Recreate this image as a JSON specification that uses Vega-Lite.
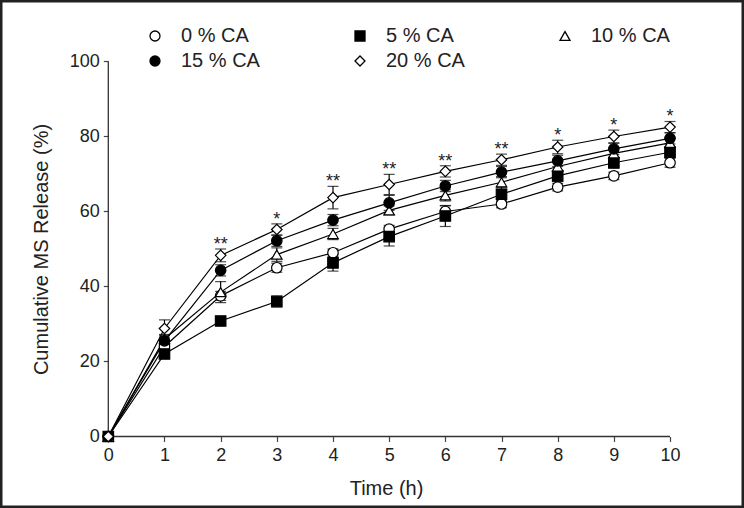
{
  "$schema": "https://vega.github.io/schema/vega-lite/v6.json",
  "width": 744,
  "height": 508,
  "autosize": {"type": "none"},
  "padding": 0,
  "background": "white",
  "config": {
    "view": {"stroke": "#222", "strokeWidth": 5},
    "font": "Liberation Sans"
  },
  "data": {
    "values": [
      {"t": 0, "s": "0 % CA", "v": 0, "e": 0},
      {"t": 1, "s": "0 % CA", "v": 24.0, "e": 1.5},
      {"t": 2, "s": "0 % CA", "v": 37.5, "e": 1.2},
      {"t": 3, "s": "0 % CA", "v": 45.0, "e": 1.2},
      {"t": 4, "s": "0 % CA", "v": 49.0, "e": 1.0},
      {"t": 5, "s": "0 % CA", "v": 55.3, "e": 1.0},
      {"t": 6, "s": "0 % CA", "v": 60.0, "e": 1.5},
      {"t": 7, "s": "0 % CA", "v": 62.0, "e": 1.0},
      {"t": 8, "s": "0 % CA", "v": 66.5, "e": 1.0},
      {"t": 9, "s": "0 % CA", "v": 69.5, "e": 1.0},
      {"t": 10, "s": "0 % CA", "v": 73.0, "e": 1.2},
      {"t": 0, "s": "5 % CA", "v": 0, "e": 0},
      {"t": 1, "s": "5 % CA", "v": 22.0, "e": 1.0},
      {"t": 2, "s": "5 % CA", "v": 30.8, "e": 0.8},
      {"t": 3, "s": "5 % CA", "v": 36.0, "e": 1.5},
      {"t": 4, "s": "5 % CA", "v": 46.3, "e": 2.2},
      {"t": 5, "s": "5 % CA", "v": 53.3, "e": 2.5},
      {"t": 6, "s": "5 % CA", "v": 58.8, "e": 2.8},
      {"t": 7, "s": "5 % CA", "v": 64.6, "e": 2.0},
      {"t": 8, "s": "5 % CA", "v": 69.5, "e": 1.5},
      {"t": 9, "s": "5 % CA", "v": 73.0, "e": 1.5},
      {"t": 10, "s": "5 % CA", "v": 75.8, "e": 1.5},
      {"t": 0, "s": "10 % CA", "v": 0, "e": 0},
      {"t": 1, "s": "10 % CA", "v": 26.0, "e": 1.2},
      {"t": 2, "s": "10 % CA", "v": 38.5, "e": 2.8},
      {"t": 3, "s": "10 % CA", "v": 48.5, "e": 1.8},
      {"t": 4, "s": "10 % CA", "v": 54.0, "e": 1.5},
      {"t": 5, "s": "10 % CA", "v": 60.3, "e": 1.2},
      {"t": 6, "s": "10 % CA", "v": 64.3, "e": 1.5},
      {"t": 7, "s": "10 % CA", "v": 67.8, "e": 1.5},
      {"t": 8, "s": "10 % CA", "v": 72.0, "e": 1.5},
      {"t": 9, "s": "10 % CA", "v": 75.5, "e": 1.5},
      {"t": 10, "s": "10 % CA", "v": 78.3, "e": 1.5},
      {"t": 0, "s": "15 % CA", "v": 0, "e": 0},
      {"t": 1, "s": "15 % CA", "v": 25.5, "e": 1.5},
      {"t": 2, "s": "15 % CA", "v": 44.3, "e": 1.5},
      {"t": 3, "s": "15 % CA", "v": 52.2, "e": 1.5},
      {"t": 4, "s": "15 % CA", "v": 57.7, "e": 1.5},
      {"t": 5, "s": "15 % CA", "v": 62.3, "e": 2.0},
      {"t": 6, "s": "15 % CA", "v": 66.8, "e": 1.5},
      {"t": 7, "s": "15 % CA", "v": 70.5, "e": 1.5},
      {"t": 8, "s": "15 % CA", "v": 73.5, "e": 1.5},
      {"t": 9, "s": "15 % CA", "v": 76.7, "e": 1.5},
      {"t": 10, "s": "15 % CA", "v": 79.5, "e": 1.5},
      {"t": 0, "s": "20 % CA", "v": 0, "e": 0},
      {"t": 1, "s": "20 % CA", "v": 28.8, "e": 2.3},
      {"t": 2, "s": "20 % CA", "v": 48.3, "e": 1.7, "sig": "**"},
      {"t": 3, "s": "20 % CA", "v": 55.2, "e": 1.5, "sig": "*"},
      {"t": 4, "s": "20 % CA", "v": 63.7, "e": 3.0, "sig": "**"},
      {"t": 5, "s": "20 % CA", "v": 67.2, "e": 2.7, "sig": "**"},
      {"t": 6, "s": "20 % CA", "v": 70.7, "e": 1.5, "sig": "**"},
      {"t": 7, "s": "20 % CA", "v": 73.8, "e": 1.5, "sig": "**"},
      {"t": 8, "s": "20 % CA", "v": 77.2, "e": 1.8, "sig": "*"},
      {"t": 9, "s": "20 % CA", "v": 80.0, "e": 1.7, "sig": "*"},
      {"t": 10, "s": "20 % CA", "v": 82.5, "e": 1.5, "sig": "*"}
    ]
  },
  "encoding": {
    "x": {
      "field": "t", "type": "quantitative",
      "scale": {"domain": [-1.928, 11.317], "nice": false, "zero": false},
      "axis": {
        "title": "Time (h)", "values": [0,1,2,3,4,5,6,7,8,9,10], "format": "d",
        "offset": -71.5, "domain": false, "grid": false,
        "tickSize": 5, "tickWidth": 1.2, "tickColor": "#444",
        "labelFontSize": 18, "labelColor": "#222", "labelPadding": 5, "labelFlush": false,
        "titleFontSize": 20, "titleFontWeight": "normal", "titleColor": "#222",
        "titleX": 386, "titleY": 52, "titleBaseline": "middle", "titleAlign": "center"
      }
    },
    "y": {
      "field": "v", "type": "quantitative",
      "scale": {"domain": [-19.07, 116.4], "nice": false, "zero": false},
      "axis": {
        "title": "Cumulative MS Release (%)", "values": [0,20,40,60,80,100],
        "offset": -108.3, "domain": false, "grid": false,
        "tickSize": 5, "tickWidth": 1.2, "tickColor": "#444",
        "labelFontSize": 18, "labelColor": "#222", "labelPadding": 4, "labelFlush": false,
        "titleFontSize": 20, "titleFontWeight": "normal", "titleColor": "#222",
        "titleX": -67, "titleY": 249, "titleAngle": -90, "titleBaseline": "middle", "titleAlign": "center"
      }
    }
  },
  "layer": [
    {
      "data": {"values": [{"a": 0, "b": 0}]},
      "mark": {"type": "rule", "color": "#333", "strokeWidth": 1.3},
      "encoding": {"x": {"field": "a", "type": "quantitative"}, "y": {"field": "b", "type": "quantitative"}, "y2": {"datum": 100}}
    },
    {
      "data": {"values": [{"a": 0, "b": 0}]},
      "mark": {"type": "rule", "color": "#333", "strokeWidth": 1.3},
      "encoding": {"x": {"field": "a", "type": "quantitative"}, "x2": {"datum": 10}, "y": {"field": "b", "type": "quantitative"}}
    },
    {
      "mark": {"type": "errorbar", "color": "black", "thickness": 1.2, "ticks": {"size": 11, "thickness": 1.2, "color": "black"}},
      "encoding": {"yError": {"field": "e"}, "detail": {"field": "s"}}
    },
    {
      "mark": {"type": "line", "color": "black", "strokeWidth": 1.2},
      "encoding": {"detail": {"field": "s"}}
    },
    {
      "mark": {"type": "point", "filled": false, "strokeWidth": 1.2, "opacity": 1, "size": 110},
      "encoding": {
        "shape": {
          "field": "s", "type": "nominal",
          "scale": {"domain": ["0 % CA", "5 % CA", "10 % CA", "15 % CA", "20 % CA"], "range": ["circle", "square", "triangle-up", "circle", "diamond"]},
          "legend": {
            "title": null, "orient": "none", "legendX": 145, "legendY": 26, "direction": "horizontal",
            "columns": 3, "columnPadding": 90, "rowPadding": 5, "padding": 0,
            "symbolSize": 100, "symbolStrokeWidth": 1.3, "symbolStrokeColor": "black",
            "labelFontSize": 20, "labelColor": "#222", "labelOffset": 16, "labelLimit": 200
          }
        },
        "fill": {
          "field": "s", "type": "nominal",
          "scale": {"domain": ["0 % CA", "5 % CA", "10 % CA", "15 % CA", "20 % CA"], "range": ["white", "black", "white", "black", "white"]}
        },
        "stroke": {
          "field": "s", "type": "nominal",
          "scale": {"domain": ["0 % CA", "5 % CA", "10 % CA", "15 % CA", "20 % CA"], "range": ["black", "black", "black", "black", "black"]}
        }
      }
    },
    {
      "transform": [{"filter": "datum.sig"}, {"calculate": "datum.v + datum.e", "as": "top"}],
      "mark": {"type": "text", "baseline": "alphabetic", "align": "center", "dy": 1, "fontSize": 18, "color": "#222"},
      "encoding": {"y": {"field": "top", "type": "quantitative"}, "text": {"field": "sig"}}
    }
  ]
}
